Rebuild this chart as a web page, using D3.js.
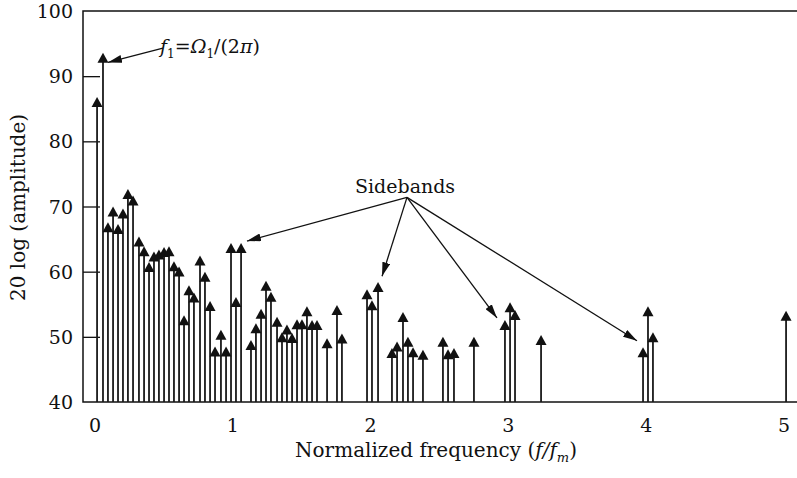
<!DOCTYPE html>
<html>
<head>
<meta charset="utf-8">
<script src="https://cdn.jsdelivr.net/npm/d3@7"></script>
<style>
  body { margin: 0; background: #fff; }
  text { font-family: "DejaVu Serif", "Liberation Serif", serif; fill: #111; }
</style>
</head>
<body>
<script>
// normalized frequency f/fm of each spectral line
const freqs = [0.015, 0.058, 0.094, 0.131, 0.167, 0.203, 0.239, 0.276, 0.319, 0.356,
  0.392, 0.428, 0.464, 0.501, 0.537, 0.573, 0.610, 0.646, 0.682, 0.718,
  0.762, 0.798, 0.835, 0.871, 0.914, 0.951, 0.987, 1.023, 1.060, 1.132,
  1.168, 1.205, 1.241, 1.277, 1.321, 1.357, 1.393, 1.430, 1.466, 1.502,
  1.538, 1.575, 1.611, 1.684, 1.756, 1.792, 1.974, 2.010, 2.054, 2.155,
  2.192, 2.235, 2.271, 2.308, 2.380, 2.525, 2.562, 2.605, 2.750, 2.975,
  3.012, 3.048, 3.237, 3.977, 4.013, 4.049, 5.015];
// 20 log (amplitude)
const amps = [86.8, 93.6, 67.6, 70.0, 67.3, 69.7, 72.7, 71.7, 65.4, 63.9,
  61.5, 63.1, 63.4, 63.8, 63.9, 61.6, 60.8, 53.3, 57.9, 56.8,
  62.5, 60.0, 55.5, 48.5, 51.1, 48.5, 64.4, 56.1, 64.4, 49.5,
  52.1, 54.3, 58.6, 56.9, 53.1, 50.7, 51.9, 50.6, 52.7, 52.7,
  54.7, 52.6, 52.6, 49.8, 54.9, 50.5, 57.3, 55.6, 58.4, 48.3,
  49.3, 53.8, 50.0, 48.4, 48.0, 50.0, 48.1, 48.3, 50.0, 52.6,
  55.3, 54.1, 50.3, 48.4, 54.7, 50.7, 54.0];
const xTicks = [0, 1, 2, 3, 4, 5];
const yTicks = [40, 50, 60, 70, 80, 90, 100];
// sideband arrow targets [f, dB]
const sidebandTargets = [[1.103, 64.7], [2.083, 59.3], [2.917, 52.9], [3.933, 49.4]];

const w = 797, h = 478;
const pLeft = 83, pRight = 798, pTop = 11, pBottom = 402;

const x = d3.scaleLinear().domain([0, 5]).range([95, 784]);
const y = d3.scaleLinear().domain([40, 100]).range([pBottom, pTop]);

const svg = d3.select("body").append("svg")
  .attr("width", w).attr("height", h);

const defs = svg.append("defs");
defs.append("marker")
  .attr("id", "arr")
  .attr("viewBox", "0 0 14 8")
  .attr("refX", 14).attr("refY", 4)
  .attr("markerWidth", 14).attr("markerHeight", 8)
  .attr("markerUnits", "userSpaceOnUse")
  .attr("orient", "auto")
  .append("path").attr("d", "M0,0L14,4L0,8Z").attr("fill", "#111");

// frame
svg.append("rect")
  .attr("x", pLeft).attr("y", pTop)
  .attr("width", pRight - pLeft).attr("height", pBottom - pTop)
  .attr("fill", "none").attr("stroke", "#111").attr("stroke-width", 1.5);

// y axis, ticks pointing inwards
const yAxis = d3.axisRight(y).tickValues(yTicks.slice(1, -1)).tickSize(17).tickFormat("");
svg.append("g").attr("transform", `translate(${pLeft},0)`).call(yAxis)
  .call(g => g.select(".domain").remove())
  .call(g => g.selectAll("line").attr("stroke", "#111").attr("stroke-width", 1.3));

svg.append("g").selectAll("text").data(yTicks).join("text")
  .attr("x", 73).attr("y", d => y(d) + 7)
  .attr("text-anchor", "end").attr("font-size", 19)
  .text(d => d);

svg.append("g").selectAll("text").data(xTicks).join("text")
  .attr("x", d => x(d)).attr("y", pBottom + 30)
  .attr("text-anchor", "middle").attr("font-size", 19)
  .text(d => d);

// stems
const data = freqs.map((f, i) => ({ f, a: amps[i] }));
svg.append("g").selectAll("line").data(data).join("line")
  .attr("x1", d => x(d.f)).attr("x2", d => x(d.f))
  .attr("y1", pBottom).attr("y2", d => y(d.a) + 4)
  .attr("stroke", "#1a1a1a").attr("stroke-width", 1.8);

svg.append("g").selectAll("path").data(data).join("path")
  .attr("d", d => {
    const cx = x(d.f), cy = y(d.a);
    return `M${cx},${cy}L${cx + 5.5},${cy + 10}L${cx - 5.5},${cy + 10}Z`;
  })
  .attr("fill", "#111");

// f1 annotation
svg.append("line")
  .attr("x1", x(0.493)).attr("y1", y(94.3))
  .attr("x2", x(0.094)).attr("y2", y(92.1))
  .attr("stroke", "#111").attr("stroke-width", 1.3)
  .attr("marker-end", "url(#arr)");

const f1 = svg.append("text").attr("x", x(0.472)).attr("y", y(93.6)).attr("font-size", 19);
f1.append("tspan").attr("font-style", "italic").text("f");
f1.append("tspan").attr("font-size", 12).attr("dy", 5).text("1");
f1.append("tspan").attr("dy", -5).text("=");
f1.append("tspan").attr("font-style", "italic").text("Ω");
f1.append("tspan").attr("font-size", 12).attr("dy", 5).text("1");
f1.append("tspan").attr("dy", -5).text("/(2");
f1.append("tspan").attr("font-style", "italic").text("π");
f1.append("tspan").text(")");

// sidebands annotation
svg.append("text")
  .attr("x", x(2.25)).attr("y", y(72.1))
  .attr("text-anchor", "middle").attr("font-size", 19)
  .text("Sidebands");

svg.append("g").selectAll("line").data(sidebandTargets).join("line")
  .attr("x1", x(2.264)).attr("y1", y(71.4))
  .attr("x2", d => x(d[0])).attr("y2", d => y(d[1]))
  .attr("stroke", "#111").attr("stroke-width", 1.3)
  .attr("marker-end", "url(#arr)");

// axis titles
const xt = svg.append("text")
  .attr("x", 436).attr("y", 457)
  .attr("text-anchor", "middle").attr("font-size", 20);
xt.append("tspan").text("Normalized frequency (");
xt.append("tspan").attr("font-style", "italic").text("f/f");
xt.append("tspan").attr("font-style", "italic").attr("font-size", 13).attr("dy", 5).text("m");
xt.append("tspan").attr("dy", -5).text(")");

svg.append("text")
  .attr("transform", `translate(25,${(pTop + pBottom) / 2 + 1}) rotate(-90)`)
  .attr("text-anchor", "middle").attr("font-size", 20)
  .text("20 log (amplitude)");
</script>
</body>
</html>
